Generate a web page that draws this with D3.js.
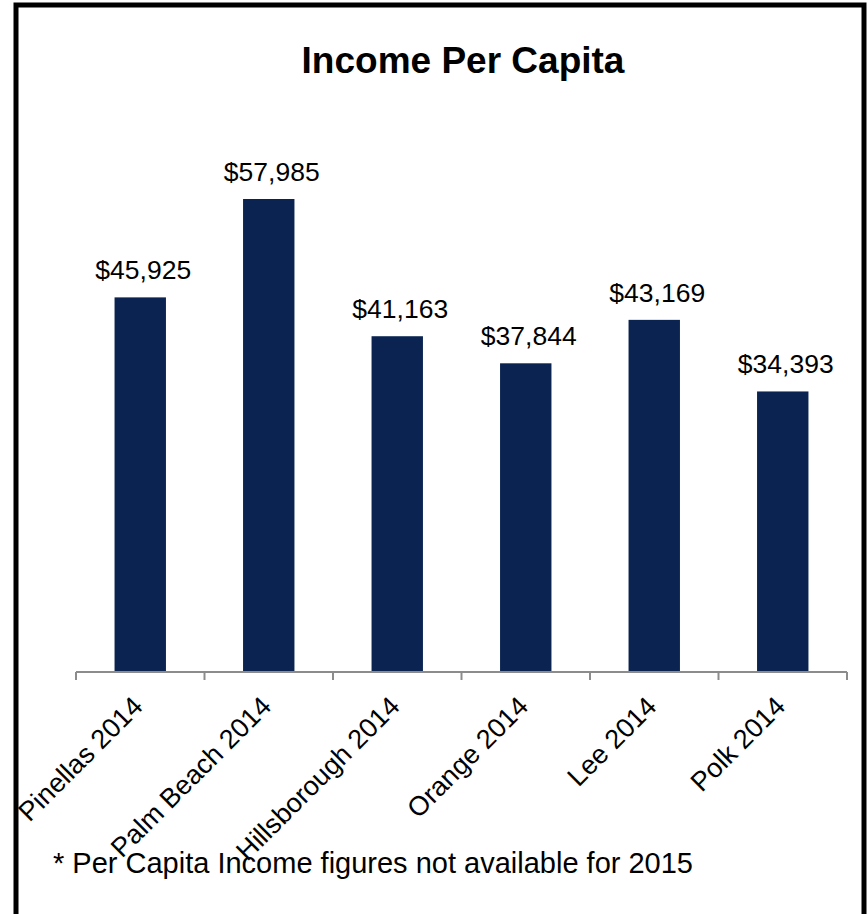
<!DOCTYPE html>
<html>
<head>
<meta charset="utf-8">
<script src="https://cdn.jsdelivr.net/npm/d3@7"></script>
<style>
  html, body { margin: 0; padding: 0; background: #fff; }
  svg { display: block; font-family: "Liberation Sans", Arial, Helvetica, sans-serif; }
</style>
</head>
<body>
<script>
// Income per capita by county (2014)
const counties = ["Pinellas 2014", "Palm Beach 2014", "Hillsborough 2014", "Orange 2014", "Lee 2014", "Polk 2014"];
const incomes = [45925, 57985, 41163, 37844, 43169, 34393];
const titleText = "Income Per Capita";
const footnoteText = "* Per Capita Income figures not available for 2015";

const W = 868, H = 914;
const svg = d3.select("body").append("svg")
  .attr("width", W).attr("height", H);

// Frame
svg.append("rect")
  .attr("x", 16).attr("y", 5)
  .attr("width", 848).attr("height", 1000)
  .attr("fill", "none")
  .attr("stroke", "#000")
  .attr("stroke-width", 5);

// Title
svg.append("text")
  .attr("x", 463).attr("y", 73)
  .attr("text-anchor", "middle")
  .attr("font-size", 37)
  .attr("font-weight", "bold")
  .attr("fill", "#000")
  .text(titleText);

const x = d3.scaleBand()
  .domain(counties)
  .range([76, 847])
  .paddingInner(0.6)
  .paddingOuter(0.3);

const y = d3.scaleLinear()
  .domain([0, 70000])
  .range([672, 101]);

const data = counties.map((c, i) => ({ county: c, value: incomes[i] }));

// Bars
svg.append("g").selectAll("rect")
  .data(data)
  .join("rect")
  .attr("x", d => x(d.county))
  .attr("y", d => y(d.value))
  .attr("width", x.bandwidth())
  .attr("height", d => y(0) - y(d.value))
  .attr("fill", "#0a2350");

// Value labels
const fmt = d3.format("$,");
svg.append("g").selectAll("text")
  .data(data)
  .join("text")
  .attr("x", d => x(d.county) + x.bandwidth() / 2 + 3)
  .attr("y", d => y(d.value) - 18)
  .attr("text-anchor", "middle")
  .attr("font-size", 26.5)
  .attr("fill", "#000")
  .text(d => fmt(d.value));

// Category axis: baseline with tick marks at the band boundaries
const axisG = svg.append("g");
const start = x.range()[0];
axisG.append("line")
  .attr("x1", start).attr("x2", x.range()[1])
  .attr("y1", y(0)).attr("y2", y(0))
  .attr("stroke", "#8c8c8c").attr("stroke-width", 2);
const tickXs = d3.range(counties.length + 1).map(i => start + i * (x.range()[1] - start) / counties.length);
axisG.selectAll("line.tick")
  .data(tickXs)
  .join("line")
  .attr("class", "tick")
  .attr("x1", d => d).attr("x2", d => d)
  .attr("y1", y(0)).attr("y2", y(0) + 8)
  .attr("stroke", "#8c8c8c").attr("stroke-width", 2);

// Rotated category labels
axisG.selectAll("text")
  .data(counties)
  .join("text")
  .attr("text-anchor", "end")
  .attr("font-size", 27)
  .attr("fill", "#000")
  .attr("transform", d => `translate(${x(d) + x.bandwidth() / 2 + 4},708) rotate(-45)`)
  .text(d => d);

// Footnote
svg.append("text")
  .attr("x", 53).attr("y", 873)
  .attr("font-size", 29)
  .attr("fill", "#000")
  .text(footnoteText);
</script>
</body>
</html>
